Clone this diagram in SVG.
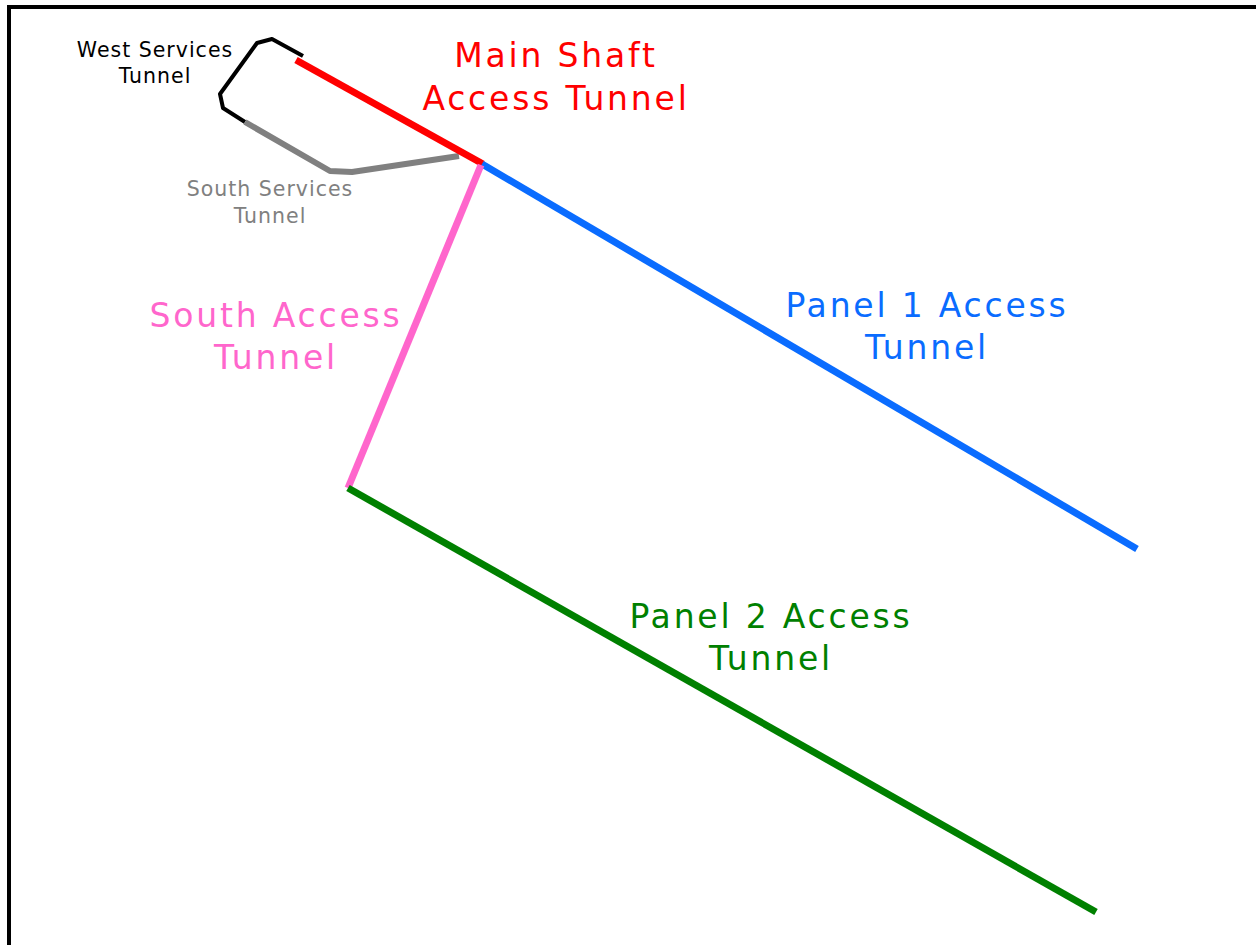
<svg xmlns="http://www.w3.org/2000/svg" width="1256" height="945" viewBox="0 0 1256 945">
  <style>
    .tun { fill: none; stroke-linejoin: round; stroke-linecap: butt; }
    .big { font-family: "DejaVu Sans", "Liberation Sans", sans-serif; font-size: 33px; letter-spacing: 2.8px; text-anchor: middle; }
    .small { font-family: "DejaVu Sans", "Liberation Sans", sans-serif; font-size: 20.5px; letter-spacing: 1px; text-anchor: middle; }
  </style>
  <rect width="1256" height="945" fill="#ffffff"/>
  <!-- frame: only top and left edges fall inside the view -->
  <rect x="9" y="7" width="1400" height="1100" fill="none" stroke="#000000" stroke-width="4"/>

  <g id="connectors">
    <polyline id="west-services" class="tun" stroke="#000000" stroke-width="4" points="303,56 272,39 257,43 220,94 223,108 245,122"/>
    <polyline id="south-services" class="tun" stroke="#808080" stroke-width="6" points="245,122 330,171 352,172 459,156"/>
    <line id="main-shaft" class="tun" stroke="#ff0000" stroke-width="7" x1="296" y1="60" x2="483" y2="164"/>
    <line id="panel-1" class="tun" stroke="#0a6cff" stroke-width="7" x1="482" y1="164" x2="1137" y2="549"/>
    <line id="south-access" class="tun" stroke="#ff66cc" stroke-width="7" x1="481" y1="165" x2="348" y2="488"/>
    <line id="panel-2" class="tun" stroke="#008000" stroke-width="7" x1="348" y1="488" x2="1096" y2="912"/>
  </g>

  <g id="label-west-services" fill="#000000">
    <text class="small" x="155" y="57">West Services</text>
    <text class="small" x="155" y="83">Tunnel</text>
  </g>
  <g id="label-south-services" fill="#808080">
    <text class="small" x="270" y="196">South Services</text>
    <text class="small" x="270" y="223">Tunnel</text>
  </g>
  <g id="label-main-shaft" fill="#ff0000">
    <text class="big" x="556" y="67">Main Shaft</text>
    <text class="big" x="556" y="110">Access Tunnel</text>
  </g>
  <g id="label-south-access" fill="#ff66cc">
    <text class="big" x="276" y="327">South Access</text>
    <text class="big" x="276" y="369">Tunnel</text>
  </g>
  <g id="label-panel-1" fill="#0a6cff">
    <text class="big" x="927" y="317">Panel 1 Access</text>
    <text class="big" x="927" y="359">Tunnel</text>
  </g>
  <g id="label-panel-2" fill="#008000">
    <text class="big" x="771" y="628">Panel 2 Access</text>
    <text class="big" x="771" y="670">Tunnel</text>
  </g>
</svg>
